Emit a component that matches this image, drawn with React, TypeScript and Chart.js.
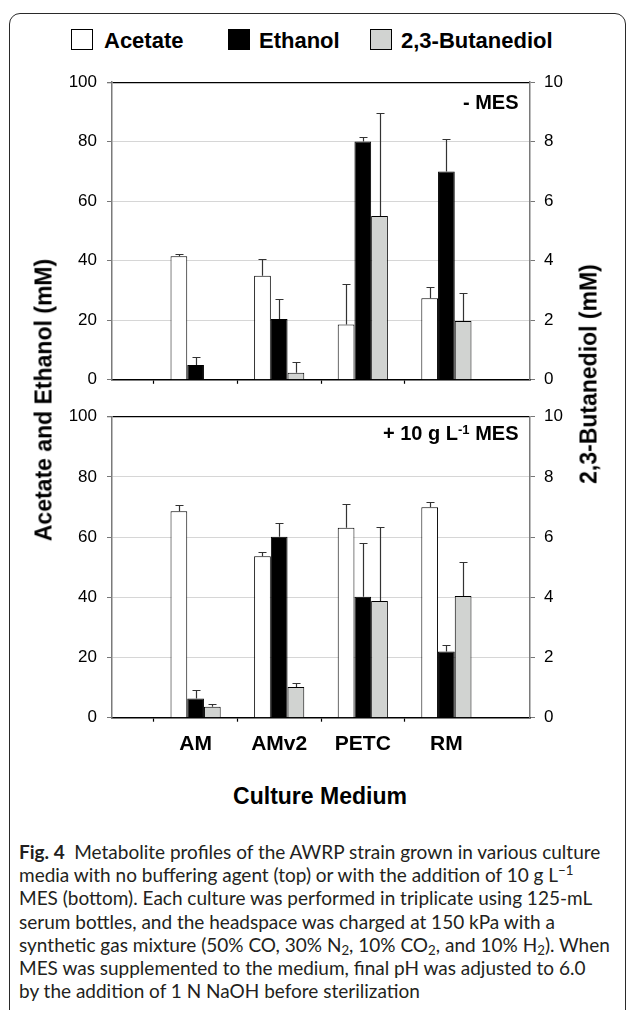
import React, { useEffect, useRef } from "react";
import { Chart, registerables } from "chart.js";

Chart.register(...registerables);

// ---------- data ----------
const categories = ["AM", "AMv2", "PETC", "RM"];
const seriesNames = ["Acetate", "Ethanol", "2,3-Butanediol"];
const leftTicks = [0, 20, 40, 60, 80, 100];
const rightTicks = [0, 2, 4, 6, 8, 10];

// top panel: - MES
const acetateNoMES = [41.5, 35.0, 18.6, 27.4];
const acetateNoMESErr = [0.9, 5.6, 13.7, 3.7];
const ethanolNoMES = [5.0, 20.4, 80.1, 70.0];
const ethanolNoMESErr = [2.6, 6.6, 1.4, 10.8];
const butanediolNoMES = [null, 0.24, 5.5, 1.98];
const butanediolNoMESErr = [null, 0.37, 3.48, 0.93];

// bottom panel: + 10 g/L MES
const acetateMES = [68.6, 53.6, 63.1, 69.9];
const acetateMESErr = [2.1, 1.3, 8.0, 1.7];
const ethanolMES = [6.4, 60.1, 40.2, 22.0];
const ethanolMESErr = [2.7, 4.5, 17.7, 2.2];
const butanediolMES = [0.365, 1.02, 3.88, 4.04];
const butanediolMESErr = [0.08, 0.14, 2.45, 1.14];

const FONT = "'Liberation Sans', Arial, Helvetica, sans-serif";
const CAPTION_FONT = "Lato, 'Open Sans', sans-serif";
const GREY_FILL = "#d1d3d1";

const errorBarPlugin = {
  id: "errorBars",
  afterDatasetsDraw(chart: any) {
    const ctx = chart.ctx;
    chart.data.datasets.forEach((ds: any, di: number) => {
      const errs = ds.errors;
      if (!errs) return;
      const meta = chart.getDatasetMeta(di);
      const yScale = chart.scales[meta.yAxisID];
      meta.data.forEach((bar: any, i: number) => {
        const v = ds.data[i];
        const e = errs[i];
        if (v == null || e == null) return;
        const x = Math.round(bar.x) + 0.5;
        const yTop = yScale.getPixelForValue(v);
        const yErr = Math.round(yScale.getPixelForValue(v + e)) + 0.5;
        ctx.save();
        ctx.strokeStyle = "#333333";
        ctx.lineWidth = 1.2;
        ctx.beginPath();
        ctx.moveTo(x, yTop);
        ctx.lineTo(x, yErr);
        ctx.moveTo(x - 4, yErr);
        ctx.lineTo(x + 4, yErr);
        ctx.stroke();
        ctx.restore();
      });
    });
  },
};

function pad(arr: (number | null)[]) {
  return [null, ...arr, null];
}

function buildConfig(
  acetate: (number | null)[],
  acetateErr: (number | null)[],
  ethanol: (number | null)[],
  ethanolErr: (number | null)[],
  buta: (number | null)[],
  butaErr: (number | null)[],
  showX: boolean,
  padTop: number,
  xHeight: number
): any {
  const labels = ["", ...categories, ""];
  const nLab = labels.length;
  return {
    type: "bar",
    data: {
      labels,
      datasets: [
        {
          label: seriesNames[0],
          data: pad(acetate),
          errors: pad(acetateErr),
          backgroundColor: "#ffffff",
          borderColor: "#000000",
          borderWidth: 1,
          yAxisID: "y",
        },
        {
          label: seriesNames[1],
          data: pad(ethanol),
          errors: pad(ethanolErr),
          backgroundColor: "#000000",
          borderColor: "#000000",
          borderWidth: 1,
          yAxisID: "y",
        },
        {
          label: seriesNames[2],
          data: pad(buta),
          errors: pad(butaErr),
          backgroundColor: GREY_FILL,
          borderColor: "#000000",
          borderWidth: 1,
          yAxisID: "y2",
        },
      ],
    },
    options: {
      animation: false,
      responsive: false,
      devicePixelRatio: 1,
      layout: { padding: { top: padTop, left: 0, right: 0, bottom: 0 } },
      datasets: { bar: { categoryPercentage: 0.6, barPercentage: 1 } },
      plugins: { legend: { display: false }, tooltip: { enabled: false } },
      scales: {
        x: {
          type: "category",
          offset: false,
          z: 1,
          grid: {
            display: true,
            drawOnChartArea: false,
            drawTicks: true,
            tickLength: 4,
            tickWidth: 1.2,
            tickColor: (c: any) =>
              c.index === 0 || c.index === nLab - 1 ? "rgba(0,0,0,0)" : "#000000",
          },
          border: { display: true, color: "#000000", width: 1.5 },
          ticks: {
            display: showX,
            autoSkip: false,
            maxRotation: 0,
            minRotation: 0,
            padding: 10,
            color: "#000000",
            font: { family: FONT, size: 21, weight: "bold" },
          },
          afterFit: (s: any) => {
            s.height = xHeight;
          },
        },
        y: {
          position: "left",
          min: 0,
          max: 100,
          afterBuildTicks: (s: any) => {
            s.ticks = leftTicks.map((v) => ({ value: v }));
          },
          ticks: {
            padding: 10,
            color: "#000000",
            font: { family: FONT, size: 17 },
          },
          grid: {
            color: (c: any) =>
              c.tick && c.tick.value === 100
                ? "#000000"
                : c.tick && c.tick.value === 0
                ? "rgba(0,0,0,0)"
                : "#d6d6d6",
            lineWidth: (c: any) => (c.tick && c.tick.value === 100 ? 1.3 : 1),
            tickColor: "#777777",
            tickLength: 5,
          },
          border: { display: true, color: "#7a7a7a", width: 1.5 },
          afterFit: (s: any) => {
            s.width = 112;
          },
        },
        y2: {
          position: "right",
          min: 0,
          max: 10,
          afterBuildTicks: (s: any) => {
            s.ticks = rightTicks.map((v) => ({ value: v }));
          },
          ticks: {
            padding: 9,
            color: "#000000",
            font: { family: FONT, size: 17 },
          },
          grid: {
            drawOnChartArea: false,
            tickColor: "#777777",
            tickLength: 5,
          },
          border: { display: true, color: "#7a7a7a", width: 1.5 },
          afterFit: (s: any) => {
            s.width = 99;
          },
        },
      },
    },
    plugins: [errorBarPlugin],
  };
}

function Panel(props: { top: number; height: number; config: any }) {
  const ref = useRef<HTMLCanvasElement | null>(null);
  useEffect(() => {
    if (!ref.current) return;
    const chart = new Chart(ref.current, props.config);
    return () => chart.destroy();
  }, []);
  return (
    <canvas
      ref={ref}
      width={629}
      height={props.height}
      style={{
        position: "absolute",
        left: 0,
        top: props.top,
        width: 629,
        height: props.height,
      }}
    />
  );
}

const abs = (o: any): React.CSSProperties => ({ position: "absolute", ...o });

function LegendItem(props: { sqLeft: number; textLeft: number; fill: string; label: string }) {
  return (
    <>
      <div
        style={abs({
          left: props.sqLeft,
          top: 29,
          width: 22,
          height: 21,
          boxSizing: "border-box",
          border: "1.5px solid #000",
          background: props.fill,
        })}
      />
      <div
        style={abs({
          left: props.textLeft,
          top: 29.5,
          fontFamily: FONT,
          fontWeight: "bold",
          fontSize: 22,
          lineHeight: "22px",
          whiteSpace: "nowrap",
          color: "#000",
        })}
      >
        {props.label}
      </div>
    </>
  );
}

const subStyle: React.CSSProperties = { fontSize: "0.7em", verticalAlign: "-0.25em", lineHeight: 0 };

const captionLines: React.ReactNode[] = [
  <>
    <b style={{ fontWeight: 700 }}>Fig. 4</b>
    {"\u2002Metabolite profiles of the AWRP strain grown in various culture"}
  </>,
  <>
    media with no buffering agent (top) or with the addition of 10 g L
    <sup style={{ fontSize: "0.7em", verticalAlign: "0.55em", lineHeight: 0 }}>{"\u22121"}</sup>
  </>,
  <>MES (bottom). Each culture was performed in triplicate using 125-mL</>,
  <>serum bottles, and the headspace was charged at 150 kPa with a</>,
  <>
    synthetic gas mixture (50% CO, 30% N<sub style={subStyle}>2</sub>, 10% CO
    <sub style={subStyle}>2</sub>, and 10% H<sub style={subStyle}>2</sub>). When
  </>,
  <>MES was supplemented to the medium, final pH was adjusted to 6.0</>,
  <>by the addition of 1 N NaOH before sterilization</>,
];

export default function App() {
  const topConfig = buildConfig(
    acetateNoMES,
    acetateNoMESErr,
    ethanolNoMES,
    ethanolNoMESErr,
    butanediolNoMES,
    butanediolNoMESErr,
    false,
    19.5,
    16.5
  );
  const bottomConfig = buildConfig(
    acetateMES,
    acetateMESErr,
    ethanolMES,
    ethanolMESErr,
    butanediolMES,
    butanediolMESErr,
    true,
    20.7,
    52.3
  );

  return (
    <div
      style={abs({
        left: 0,
        top: 0,
        width: 629,
        height: 1010,
        overflow: "hidden",
        background: "#ffffff",
      })}
    >
      {/* frame */}
      <div
        style={abs({
          left: 9,
          top: 13,
          width: 617,
          height: 1030,
          boxSizing: "border-box",
          border: "1px solid #2a2a2a",
          borderRadius: 11,
        })}
      />

      {/* legend */}
      <LegendItem sqLeft={71} textLeft={104} fill="#ffffff" label={seriesNames[0]} />
      <LegendItem sqLeft={228} textLeft={259} fill="#000000" label={seriesNames[1]} />
      <LegendItem sqLeft={370} textLeft={401} fill={GREY_FILL} label={seriesNames[2]} />

      <Panel top={62} height={338} config={topConfig} />
      <Panel top={396} height={374} config={bottomConfig} />

      {/* panel labels */}
      <div
        style={abs({
          left: 318,
          width: 200.5,
          top: 91.7,
          textAlign: "right",
          fontFamily: FONT,
          fontWeight: "bold",
          fontSize: 20,
          lineHeight: "20px",
          whiteSpace: "nowrap",
        })}
      >
        - MES
      </div>
      <div
        style={abs({
          left: 318,
          width: 200.5,
          top: 423.3,
          textAlign: "right",
          fontFamily: FONT,
          fontWeight: "bold",
          fontSize: 20,
          lineHeight: "20px",
          whiteSpace: "nowrap",
        })}
      >
        + 10 g L
        <sup style={{ fontSize: 13, verticalAlign: "0.45em", lineHeight: 0 }}>-1</sup> MES
      </div>

      {/* axis titles */}
      <div
        style={abs({
          left: 44,
          top: 400,
          transform: "translate(-50%, -50%) rotate(-90deg)",
          fontFamily: FONT,
          fontWeight: "bold",
          fontSize: 23,
          lineHeight: "23px",
          whiteSpace: "nowrap",
        })}
      >
        Acetate and Ethanol (mM)
      </div>
      <div
        style={abs({
          left: 589,
          top: 374,
          transform: "translate(-50%, -50%) rotate(-90deg)",
          fontFamily: FONT,
          fontWeight: "bold",
          fontSize: 23,
          lineHeight: "23px",
          whiteSpace: "nowrap",
        })}
      >
        2,3-Butanediol (mM)
      </div>
      <div
        style={abs({
          left: 120,
          width: 400,
          top: 785,
          textAlign: "center",
          fontFamily: FONT,
          fontWeight: "bold",
          fontSize: 23,
          lineHeight: "23px",
          whiteSpace: "nowrap",
        })}
      >
        Culture Medium
      </div>

      {/* caption */}
      {captionLines.map((ln, i) => (
        <div
          key={i}
          style={abs({
            left: 19,
            top: 840 + i * 23.2,
            fontFamily: CAPTION_FONT,
            fontSize: 19,
            lineHeight: "23px",
            whiteSpace: "nowrap",
            color: "#231f20",
          })}
        >
          {ln}
        </div>
      ))}
    </div>
  );
}
